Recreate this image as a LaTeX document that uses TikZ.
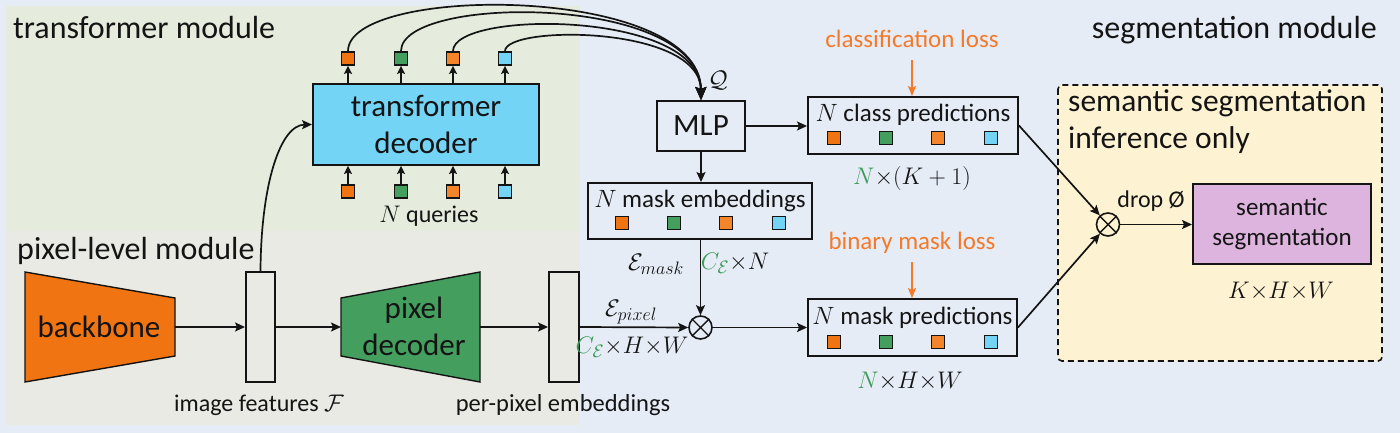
\RequirePackage{fix-cm}
\documentclass[tikz,border=0pt]{standalone}
\usepackage[no-math]{fontspec}
\setmainfont{Carlito}
\usetikzlibrary{arrows.meta}
\definecolor{bgblue}{HTML}{E5ECF6}
\definecolor{tmbg}{HTML}{E5ECDD}
\definecolor{pxbg}{HTML}{E9EAE3}
\definecolor{orng}{HTML}{F07412}
\definecolor{orng2}{HTML}{F5852A}
\definecolor{grn}{HTML}{449F5F}
\definecolor{sky}{HTML}{74D4F6}
\definecolor{lilac}{HTML}{DDB4DD}
\definecolor{cream}{HTML}{FDF2D2}
\definecolor{losso}{HTML}{F47A2A}
\definecolor{mgreen}{HTML}{3C9A55}
\definecolor{ink}{HTML}{141414}
\newcommand{\fzTitle}{\fontsize{32}{38}\selectfont}
\newcommand{\fzBig}{\fontsize{31}{37}\selectfont}
\newcommand{\fzSem}{\fontsize{31.5}{37}\selectfont}
\newcommand{\fzMid}{\fontsize{25}{30}\selectfont}
\newcommand{\fzLab}{\fontsize{24}{29}\selectfont}
\newcommand{\mysubsc}[1]{\mbox{\fontsize{18}{20}\selectfont$#1$}}
\begin{document}
\begin{tikzpicture}[x=1pt,y=-1pt,
 every node/.style={text=ink},
 arr/.style={draw=ink,line width=1.7pt,-{Stealth[length=10pt,width=9pt,inset=2pt]}},
 sarr/.style={draw=ink,line width=1.7pt,-{Stealth[length=8pt,width=8pt,inset=1.5pt]}},
 barr/.style={draw=ink,line width=1.7pt,-{Stealth[length=13pt,width=11pt,inset=2pt]}},
 larr/.style={draw=losso,line width=1.7pt,-{Stealth[length=10pt,width=8pt,inset=2pt]}},
 sq/.style={draw=ink,line width=1.8pt,minimum size=13pt,inner sep=0pt},
 box/.style={draw=ink,line width=1.9pt,inner sep=0pt},
 otim/.style={circle,draw=ink,line width=1.6pt,minimum size=23pt,inner sep=0pt},
]
% backgrounds
\path[use as bounding box, fill=bgblue] (0,0) rectangle (1400,433);
\fill[tmbg] (6,6) rectangle (580,231);
\fill[pxbg] (6,231) rectangle (580,425);
\draw[dash pattern=on 6pt off 4pt, line width=1.6pt, fill=cream, rounded corners=4pt, draw=ink] (1058,85) rectangle (1382,361);

% module titles
\node[anchor=base west, font=\fzTitle, inner sep=0pt] (tmtitle) at (13,39) {transformer module};
\node[anchor=base west, font=\fzTitle, inner sep=0pt] (pxtitle) at (17,259) {pixel-level module};
\node[anchor=base east, font=\fzTitle, inner sep=0pt] (sgtitle) at (1377,39) {segmentation module};
\node[anchor=base west, font=\fzSem, inner sep=0pt] (sstitle) at (1068,112) {semantic segmentation};
\node[anchor=base west, font=\fzSem, inner sep=0pt] (inftitle) at (1068,149) {inference only};

% pixel-level module
\filldraw[fill=orng, draw=ink, line width=1.4pt] (25,272) -- (175,298) -- (175,356) -- (25,382) -- cycle;
\filldraw[fill=grn, draw=ink, line width=1.4pt] (341,298) -- (480,272) -- (480,382) -- (341,356) -- cycle;
\node[font=\fzBig] (bb) at (99,327) {backbone};
\node[font=\fzBig, align=center] (pd) at (414,326) {pixel\\decoder};
\coordinate (bbE) at (175,327);
\coordinate (pdW) at (341,327);
\coordinate (pdE) at (480,327);
\node[box, minimum width=29pt, minimum height=110pt] (feat) at (260.5,327) {};
\node[box, minimum width=30pt, minimum height=110pt] (perpix) at (564,327) {};
\node[anchor=base, font=\fzLab] (featlab) at (259,411) {image features $\mathcal{F}$};
\node[anchor=base, font=\fontsize{24.5}{29}\selectfont] (pplab) at (563,411) {per-pixel embeddings};
\draw[arr] (bbE) -- (feat.west);
\draw[arr] (feat.east) -- (pdW);
\draw[arr] (pdE) -- (perpix.west);

% transformer module
\node[box, fill=sky, minimum width=226pt, minimum height=81pt, font=\fzBig, align=center] (dec) at (426,124.5) {transformer\\decoder};
\node[sq, fill=orng] (t1) at (348,58.5) {};
\node[sq, fill=grn] (t2) at (401,58.5) {};
\node[sq, fill=orng2] (t3) at (453,58.5) {};
\node[sq, fill=sky] (t4) at (505,58.5) {};
\node[sq, fill=orng] (q1) at (348,191.5) {};
\node[sq, fill=grn] (q2) at (401,191.5) {};
\node[sq, fill=orng2] (q3) at (453,191.5) {};
\node[sq, fill=sky] (q4) at (505,191.5) {};
\foreach \i in {1,2,3,4}{
  \draw[sarr] (t\i |- dec.north) -- (t\i.south);
  \draw[sarr] (q\i.north) -- (q\i |- dec.south);
}
\node[anchor=base, font=\fzLab] (nq) at (429,222) {$N$ queries};
\draw[arr] (feat.north) .. controls (261,185) and (280,125) .. (dec.west);

% MLP and heads
\node[box, minimum width=88pt, minimum height=50pt, font=\fzBig] (mlp) at (701,126) {MLP};
\node[font=\fzLab] (qlab) at (718,80) {$\mathcal{Q}$};
\draw[barr] (t1.north) .. controls (348,-16) and (700,-16) .. (mlp.north);
\draw[barr] (t2.north) .. controls (401,-6) and (700,-6) .. (mlp.north);
\draw[barr] (t3.north) .. controls (453,10) and (700,10) .. (mlp.north);
\draw[barr] (t4.north) .. controls (505,25) and (700,25) .. (mlp.north);

\node[box, minimum width=210pt, minimum height=57pt] (cls) at (913,125.5) {};
\node[anchor=base, font=\fzMid] (clst) at (913,122) {$N$ class predictions};
\node[sq, fill=orng] (c1) at (834,138) {};
\node[sq, fill=grn] (c2) at (886,138) {};
\node[sq, fill=orng2] (c3) at (938,138) {};
\node[sq, fill=sky] (c4) at (991,138) {};
\node[anchor=base, font=\fzLab] (clsdim) at (912,184) {$\textcolor{mgreen}{N}{\times}(K+1)$};
\node[anchor=base, font=\fzMid, text=losso] (closs) at (912,48) {classification loss};
\coordinate (clossS) at (912,60);
\draw[larr] (clossS) -- (cls.north -| clossS);

\node[box, minimum width=224pt, minimum height=56pt] (emb) at (700,211) {};
\node[anchor=base, font=\fzMid] (embt) at (700,207) {$N$ mask embeddings};
\node[sq, fill=orng] (e1) at (622,223) {};
\node[sq, fill=grn] (e2) at (674,223) {};
\node[sq, fill=orng2] (e3) at (726,223) {};
\node[sq, fill=sky] (e4) at (779,223) {};

\draw[arr] (mlp.east) -- (cls.west |- mlp.east);
\draw[arr] (mlp.south) -- (emb.north -| mlp.south);

\node[otim] (o1) at (700.5,327.5) {};
\draw[line width=1.4pt, draw=ink] (o1.north east) -- (o1.south west) (o1.north west) -- (o1.south east);
\draw[arr] (emb.south -| o1.north) -- (o1.north);
\draw[arr] (perpix.east) -- (o1.west);
\node[anchor=base, font=\fzLab] (emask) at (656,270) {$\mathcal{E}_{\mysubsc{mask}}$};
\node[anchor=base, font=\fzLab] (cen) at (735,269) {$\textcolor{mgreen}{C_{\mysubsc{\mathcal{E}}}}{\times}N$};
\node[anchor=base, font=\fzLab] (epix) at (631,316) {$\mathcal{E}_{\mysubsc{pixel}}$};
\node[anchor=base, font=\fzLab] (chw) at (632,353) {$\textcolor{mgreen}{C_{\mysubsc{\mathcal{E}}}}{\times}H{\times}W$};

\node[box, minimum width=209pt, minimum height=57pt] (mp) at (912.5,327.5) {};
\node[anchor=base, font=\fzMid] (mpt) at (912.5,324) {$N$ mask predictions};
\node[sq, fill=orng] (m1) at (834,342) {};
\node[sq, fill=grn] (m2) at (886,342) {};
\node[sq, fill=orng2] (m3) at (938,342) {};
\node[sq, fill=sky] (m4) at (991,342) {};
\node[anchor=base, font=\fzLab] (mpdim) at (910,388) {$\textcolor{mgreen}{N}{\times}H{\times}W$};
\node[anchor=base, font=\fzMid, text=losso] (bloss) at (912,249) {binary mask loss};
\coordinate (blossS) at (912,262);
\draw[larr] (blossS) -- (mp.north -| blossS);
\draw[arr] (o1.east) -- (mp.west);

% segmentation module
\node[otim] (o2) at (1108,224.5) {};
\draw[line width=1.4pt, draw=ink] (o2.north east) -- (o2.south west) (o2.north west) -- (o2.south east);
\draw[arr] (cls.east) -- (o2);
\draw[arr] (mp.east) -- (o2);
\node[box, fill=lilac, minimum width=178pt, minimum height=80pt, font=\fzMid, align=center] (sem) at (1282,224) {semantic\\segmentation};
\draw[arr] (o2.east) -- (sem.west |- o2.east);
\node[anchor=base, font=\fzLab] (drop) at (1151,207) {drop Ø};
\node[anchor=base, font=\fzLab] (khw) at (1281,298) {$K{\times}H{\times}W$};
\end{tikzpicture}
\end{document}
